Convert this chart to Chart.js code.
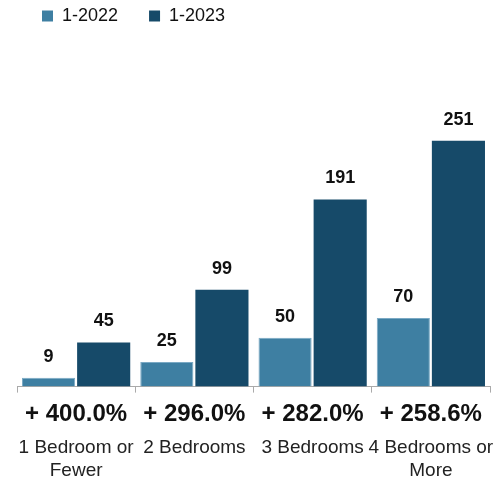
<!DOCTYPE html>
<html>
<head>
<meta charset="utf-8">
<script src="https://cdn.jsdelivr.net/npm/chart.js@4/dist/chart.umd.min.js"></script>
<style>
  html, body { margin: 0; padding: 0; background: #ffffff; }
  #wrap { width: 493px; height: 477px; position: relative; }
</style>
</head>
<body>
<div id="wrap"><canvas id="c" width="493" height="477"></canvas></div>
<script>
const categories = [['1 Bedroom or', 'Fewer'], '2 Bedrooms', '3 Bedrooms', ['4 Bedrooms or', 'More']];
const changeLabels = ['+ 400.0%', '+ 296.0%', '+ 282.0%', '+ 258.6%'];
const seriesNames = ['1-2022', '1-2023'];
const values2022 = [9, 25, 50, 70];
const values2023 = [45, 99, 191, 251];

const FONT = "'Liberation Sans', Arial, Helvetica, sans-serif";

const legendShift = {
  id: 'legendShift',
  afterLayout(chart) {
    if (chart.legend) {
      chart.legend.left += 19;
      chart.legend.top += 1;
    }
  }
};

const valueLabels = {
  id: 'valueLabels',
  afterDatasetsDraw(chart) {
    const ctx = chart.ctx;
    ctx.save();
    ctx.font = 'bold 18px ' + FONT;
    ctx.fillStyle = '#111111';
    ctx.textAlign = 'center';
    ctx.textBaseline = 'middle';
    chart.data.datasets.forEach((ds, di) => {
      const meta = chart.getDatasetMeta(di);
      meta.data.forEach((el, i) => {
        ctx.fillText(String(ds.data[i]), el.x, el.y - 21);
      });
    });
    ctx.restore();
  }
};

const noSidePadding = (scale) => { scale.paddingLeft = 0; scale.paddingRight = 0; };

new Chart(document.getElementById('c'), {
  type: 'bar',
  data: {
    labels: categories,
    datasets: [
      { label: seriesNames[0] + '     ', data: values2022, backgroundColor: '#3e7fa2', borderColor: '#7aa9c4', borderWidth: 1, xAxisID: 'x' },
      { label: seriesNames[1], data: values2023, backgroundColor: '#164a69', xAxisID: 'x' }
    ]
  },
  options: {
    responsive: false,
    animation: false,
    categoryPercentage: 0.932,
    barPercentage: 0.964,
    layout: { padding: { left: 17, right: 3, top: 0, bottom: -6 } },
    plugins: {
      legend: {
        position: 'top',
        align: 'start',
        labels: {
          boxWidth: 11,
          boxHeight: 11,
          padding: 6,
          color: '#111111',
          font: { family: FONT, size: 18 },
          generateLabels: (chart) => Chart.defaults.plugins.legend.labels.generateLabels(chart).map(l => ({ ...l, lineWidth: 0 }))
        }
      },
      tooltip: { enabled: false }
    },
    scales: {
      y: {
        display: false,
        beginAtZero: true,
        max: 360
      },
      x: {
        type: 'category',
        position: 'bottom',
        offset: true,
        afterFit: noSidePadding,
        grid: { display: true, drawOnChartArea: false, offset: true, tickLength: 6, color: '#aaaaaa' },
        border: { display: true, color: '#aaaaaa' },
        ticks: {
          padding: 7,
          maxRotation: 0,
          autoSkip: false,
          color: '#111111',
          font: { family: FONT, size: 24, weight: 'bold' },
          callback: (v, i) => changeLabels[i]
        }
      },
      x2: {
        type: 'category',
        position: 'bottom',
        labels: categories,
        offset: true,
        afterFit: noSidePadding,
        grid: { display: false, drawTicks: false, offset: true },
        border: { display: false },
        ticks: {
          padding: 1,
          maxRotation: 0,
          autoSkip: false,
          color: '#222222',
          font: { family: FONT, size: 19 }
        }
      }
    }
  },
  plugins: [legendShift, valueLabels]
});
</script>
</body>
</html>
